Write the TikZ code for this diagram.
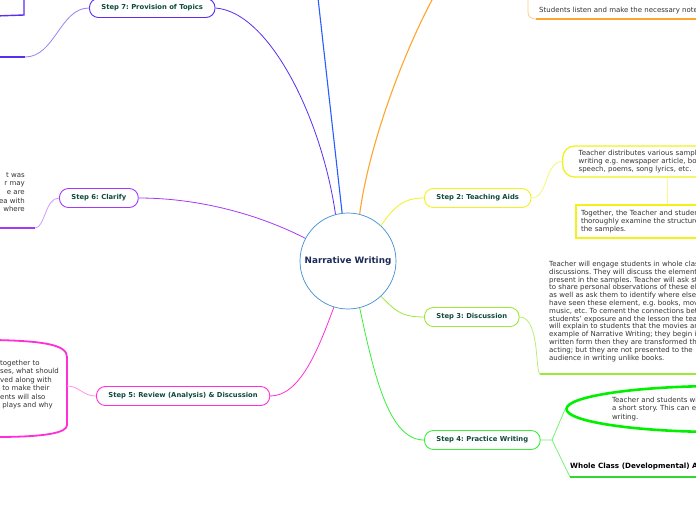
\documentclass[tikz,border=0pt]{standalone}
\usepackage{fontspec}
\setmainfont{DejaVu Sans}
\frenchspacing
\usetikzlibrary{shapes.geometric,calc}
\definecolor{topicblue}{HTML}{3F8FD2}
\definecolor{navytext}{HTML}{1B2A57}
\definecolor{labelgreen}{HTML}{0E4A3B}
\definecolor{stepseven}{HTML}{5A2DF0}
\definecolor{branchblue}{HTML}{2A5CFF}
\definecolor{branchorange}{HTML}{FFA52E}
\definecolor{steptwo}{HTML}{F2F21A}
\definecolor{stepthree}{HTML}{9BE83A}
\definecolor{stepfour}{HTML}{3AEE3A}
\definecolor{brightgreen}{HTML}{00F000}
\definecolor{stepfive}{HTML}{FF2ED8}
\definecolor{stepsix}{HTML}{A53AF5}
\definecolor{bodygray}{HTML}{333333}

\tikzset{
  stepnode/.style={draw=#1, fill=white, rounded corners=9pt, line width=0.9pt,
    minimum height=19pt, inner xsep=12pt, inner ysep=0pt, anchor=west,
    font=\fontsize{6.8}{8}\selectfont\bfseries, text=labelgreen},
  link/.style={draw=#1, line width=0.8pt},
  note/.style={font=\fontsize{7}{8.4}\selectfont, text=bodygray, align=left, inner sep=0pt},
  underline/.style={draw=#1, line width=2.2pt},
}

\begin{document}
\begin{tikzpicture}[x=1pt,y=-1pt]
\useasboundingbox (0,0) rectangle (696,520);
\fill[white] (0,0) rectangle (696,520);
\clip (0,0) rectangle (696,520);

% Central topic
\node[circle, draw=topicblue, fill=white, line width=0.7pt, minimum size=96pt,
  font=\fontsize{8.8}{10}\selectfont\bfseries, text=navytext] (c) at (348,261) {Narrative Writing};

% Steps
\node[stepnode=stepseven] (s7) at (89,8) {Step 7: Provision of Topics};
\node[stepnode=steptwo] (s2) at (424,198) {Step 2: Teaching Aids};
\node[stepnode=stepthree] (s3) at (424,317) {Step 3: Discussion};
\node[stepnode=stepfour] (s4) at (424,440) {Step 4: Practice Writing};
\node[stepnode=stepfive] (s5) at (96,396) {Step 5: Review (Analysis) \& Discussion};
\node[stepnode=stepsix] (s6) at (59,198) {Step 6: Clarify};

% Branches leaving the page
\coordinate (bt) at (318,-2);
\coordinate (ot) at (433,-2);
\draw[link=branchblue, line width=1.1pt] (bt) -- (c.97);
\draw[link=branchorange, line width=1.1pt] (ot) .. controls (400,60) and (368,150) .. (c.76);

% Connectors from the centre
\draw[link=stepseven] (s7.east) .. controls (270,12) and (322,120) .. (c.105);
\draw[link=steptwo] (c.47) .. controls (395,205) and (405,198) .. (s2.west);
\draw[link=stepthree] (c.-47) .. controls (395,310) and (400,317) .. (s3.west);
\draw[link=stepfour] (c.-76) .. controls (375,380) and (390,440) .. (s4.west);
\draw[link=stepfive] (c.-107) .. controls (318,350) and (300,396) .. (s5.east);
\draw[link=stepsix] (s6.east) .. controls (200,198) and (260,215) .. (c.152);

% Step 7 children (cut off)
\coordinate (u7) at (25,57);
\draw[link=stepseven!60] (s7.west) .. controls (60,8) and (55,57) .. (u7);
\draw[underline=stepseven] (u7) -- (-5,57);
\draw[stepseven, line width=1.4pt] (24,-2) -- (24,15) -- (-5,16);

% Orange child (cut off)
\draw[branchorange!60, line width=0.7pt] (528,-5) -- (528,12) .. controls (528,17) and (531,19) .. (536,19);
\draw[underline=branchorange, line width=1.8pt] (536,19) -- (710,19);
\node[note, anchor=west] (o1) at (539,11) {Students listen and make the necessary notes.};

% Step 2 children
\node[note, draw=steptwo, line width=1.3pt, rounded corners=12pt, anchor=west,
  minimum height=31pt, inner xsep=16pt, text width=180pt] (t1) at (562,161.5)
  {Teacher distributes various samples of\\writing e.g. newspaper article, book,\\speech, poems, song lyrics, etc.};
\node[note, draw=steptwo, line width=2pt, anchor=north west, minimum height=33pt,
  inner xsep=5pt, text width=180pt] (t2) at (575,204)
  {Together, the Teacher and students\\thoroughly examine the structure of\\the samples.};
\draw[link=steptwo!60] (s2.east) .. controls (548,198) and (545,161.5) .. (t1.west);
\draw[steptwo!50, line width=0.6pt] ($(t1.south west)+(105,0)$) -- ($(t2.north west)+(92,0)$);

% Step 3 child
\coordinate (d1) at (540,374);
\node[note, anchor=north west, font=\fontsize{7}{7.8}\selectfont] (d1text) at (549,261)
  {Teacher will engage students in whole class\\
   discussions. They will discuss the elements\\
   present in the samples. Teacher will ask students\\
   to share personal observations of these elements\\
   as well as ask them to identify where else they\\
   have seen these element, e.g. books, movies,\\
   music, etc. To cement the connections between\\
   students' exposure and the lesson the teacher\\
   will explain to students that the movies are an\\
   example of Narrative Writing; they begin in\\
   written form then they are transformed through\\
   acting; but they are not presented to the\\
   audience in writing unlike books.};
\draw[link=stepthree!70] (s3.east) .. controls (540,317) and (535,372) .. (d1);
\draw[underline=stepthree] (d1) -- (710,374);

% Step 4 children
\coordinate (b4) at (552,440);
\coordinate (w1) at (570,477);
\node[note, ellipse, draw=brightgreen, line width=2.6pt, minimum width=310pt,
  minimum height=46pt, text width=220pt] (e1) at (722,409)
  {Teacher and students will write together\\a short story. This can either be a guided\\writing.};
\draw[link=stepfour!70] (s4.east) -- (b4) -- (e1.west);
\draw[link=stepfour!70] (b4) -- (w1);
\draw[underline=stepfour!90!black, line width=1.6pt] (w1) -- (710,477);
\node[note, anchor=west, font=\fontsize{7.2}{8}\selectfont\bfseries, text=black] (w1text) at (570,467)
  {Whole Class (Developmental) Activity};

% Step 5 child (cut off)
\coordinate (u5) at (67,386);
\draw[stepfive, line width=1.8pt] (-5,340) .. controls (45,341) and (67,345) .. (67,357)
  -- (67,425) .. controls (67,433) and (45,437) .. (-5,437);
\draw[link=stepfive!50] (s5.west) .. controls (82,396) and (80,386) .. (u5);
\node[note, anchor=north west] (p5) at (0,360)
  {together to\\ses, what should\\ved along with\\\ to make their\\ents will also\\\ plays and why};

% Step 6 child (cut off)
\coordinate (u6) at (35,228);
\draw[link=stepsix!50] (s6.west) .. controls (45,198) and (45,228) .. (u6);
\draw[underline=stepsix] (u6) -- (-5,228);
\node[note, anchor=north east, align=right, font=\fontsize{7}{8.7}\selectfont] (p6) at (25,172)
  {t was\\r may\\e are\\ea with\\where};
\end{tikzpicture}
\end{document}
